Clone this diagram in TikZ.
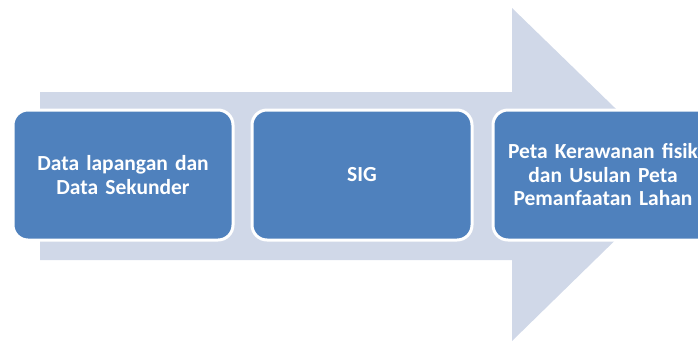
\documentclass[tikz,border=0pt]{standalone}
\usepackage{fontspec}
\setmainfont{Carlito}
\usetikzlibrary{positioning}
\definecolor{arrowgrey}{HTML}{D0D8E8}
\definecolor{boxblue}{HTML}{4F81BD}
\begin{document}
\begin{tikzpicture}[
    x=1pt, y=-1pt,
    stagebox/.style={rectangle, rounded corners=15pt, fill=boxblue, draw=white,
        line width=3pt, minimum width=220pt, minimum height=130pt,
        text=white, font=\bfseries\fontsize{21.5}{23.5}\selectfont,
        align=center, text width=212pt, inner sep=0pt}
]

    % Page size and clipping
    \useasboundingbox (0,0) rectangle (698,341);
    \clip (0,0) rectangle (698,341);

    % Geometry of the big arrow behind the boxes
    \def\shaftL{40}
    \def\headX{512}
    \def\tipX{683}

    % Background arrow
    \fill[arrowgrey] (\shaftL,92) -- (\headX,92) -- (\headX,8) -- (\tipX,174)
        -- (\headX,341) -- (\headX,260) -- (\shaftL,260) -- cycle;

    % The three stages
    \node[stagebox] (data) at (123,175) {Data lapangan dan\\Data Sekunder};
    \node[stagebox, right=16pt of data] (sig) {SIG};
    \node[stagebox, right=18pt of sig] (peta)
        {Peta Kerawanan fisik\\dan Usulan Peta\\Pemanfaatan Lahan};

\end{tikzpicture}
\end{document}
